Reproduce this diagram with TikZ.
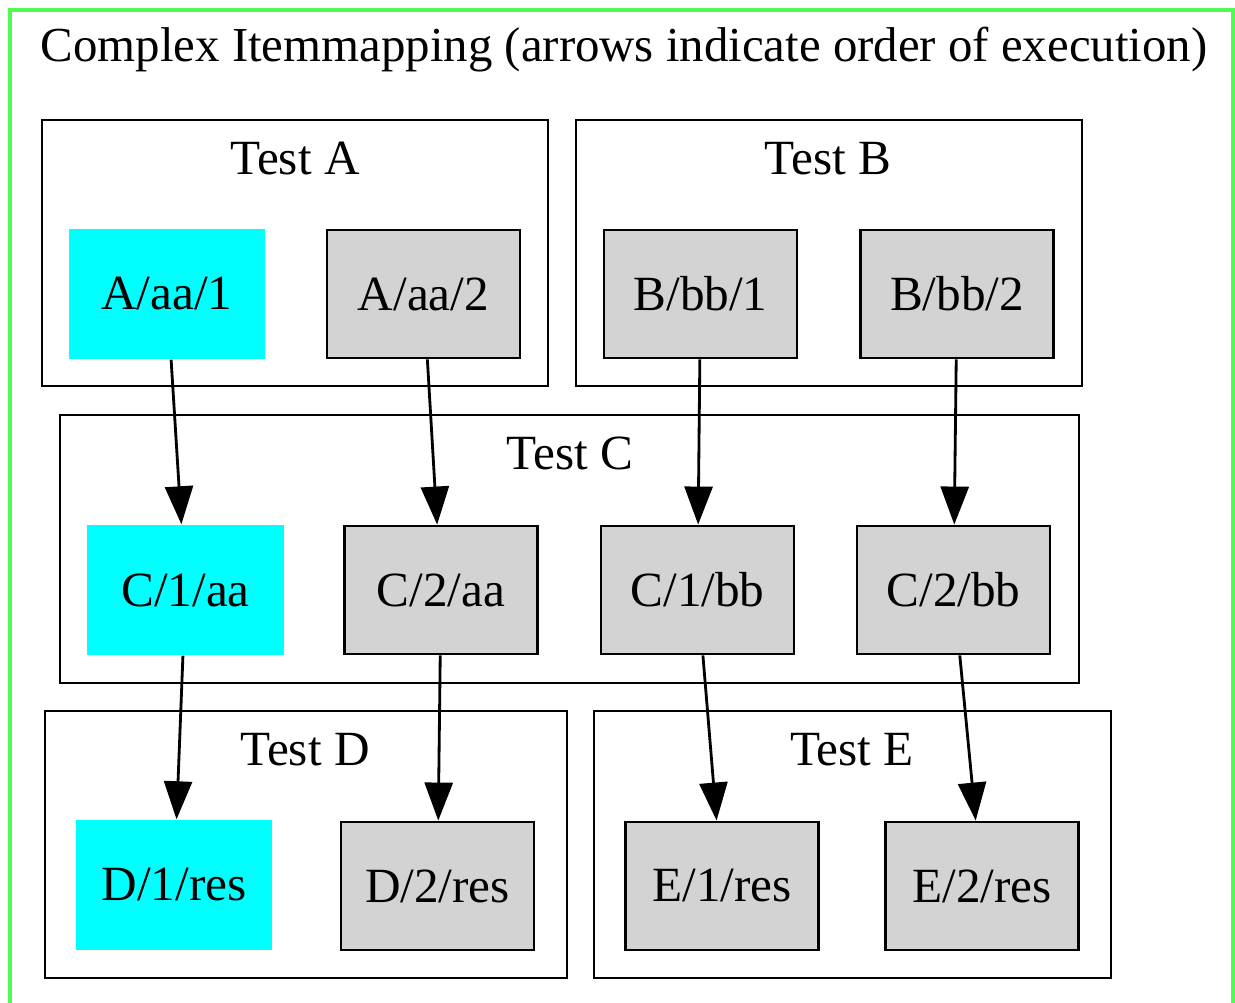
\documentclass[tikz,border=0pt]{standalone}
\usepackage{fontspec}
\setmainfont{Liberation Serif}
\usetikzlibrary{arrows.meta}
\definecolor{lightgrey}{RGB}{211,211,211}
\definecolor{aqua}{RGB}{0,255,255}
\definecolor{framegreen}{RGB}{80,250,80}
\begin{document}
\begin{tikzpicture}[font=\fontsize{14pt}{16pt}\selectfont]
 \tikzstyle{item} = [draw, line width=0.8pt, fill=lightgrey, minimum width=1.93cm, minimum height=1.28cm, inner sep=0pt];
 \tikzstyle{done} = [fill=aqua, minimum width=1.96cm, minimum height=1.30cm, inner sep=0pt];
 \tikzstyle{group} = [draw, line width=0.8pt];
 \tikzstyle{flow} = [-{Triangle[length=3.8mm,width=2.8mm]}, line width=0.8pt];
\useasboundingbox (0,0) rectangle (12.35,-10.03);
\draw [framegreen, line width=1pt] (0.10,-0.10) rectangle (12.33,-10.20);
\node [anchor=base west, inner sep=0pt, font=\fontsize{13.9pt}{16pt}\selectfont] (title) at (0.40,-0.62) {Complex Itemmapping (arrows indicate order of execution)};

% clusters
\draw [group] (0.42,-1.20) rectangle (5.48,-3.86);
\node [anchor=base] (la) at (2.95,-1.75) {Test A};
\draw [group] (5.76,-1.20) rectangle (10.82,-3.86);
\node [anchor=base] (lb) at (8.28,-1.75) {Test B};
\draw [group] (0.60,-4.15) rectangle (10.79,-6.83);
\node [anchor=base] (lc) at (5.70,-4.70) {Test C};
\draw [group] (0.45,-7.11) rectangle (5.67,-9.78);
\node [anchor=base] (ld) at (3.05,-7.66) {Test D};
\draw [group] (5.94,-7.11) rectangle (11.11,-9.78);
\node [anchor=base] (le) at (8.52,-7.66) {Test E};

% items
\node [done] (a1) at (1.67,-2.94) {A/aa/1};
\node [item] (a2) at (4.235,-2.94) {A/aa/2};
\node [item] (b1) at (7.005,-2.94) {B/bb/1};
\node [item] (b2) at (9.57,-2.94) {B/bb/2};
\node [done] (c1) at (1.855,-5.90) {C/1/aa};
\node [item] (c2) at (4.41,-5.90) {C/2/aa};
\node [item] (c3) at (6.975,-5.90) {C/1/bb};
\node [item] (c4) at (9.535,-5.90) {C/2/bb};
\node [done] (d1) at (1.74,-8.85) {D/1/res};
\node [item] (d2) at (4.375,-8.86) {D/2/res};
\node [item] (e1) at (7.22,-8.86) {E/1/res};
\node [item] (e2) at (9.82,-8.86) {E/2/res};

\draw [flow] (a1) -- (c1);
\draw [flow] (a2) -- (c2);
\draw [flow] (b1) -- (c3);
\draw [flow] (b2) -- (c4);
\draw [flow] (c1) -- (d1);
\draw [flow] (c2) -- (d2);
\draw [flow] (c3) -- (e1);
\draw [flow] (c4) -- (e2);
\end{tikzpicture}
\end{document}
